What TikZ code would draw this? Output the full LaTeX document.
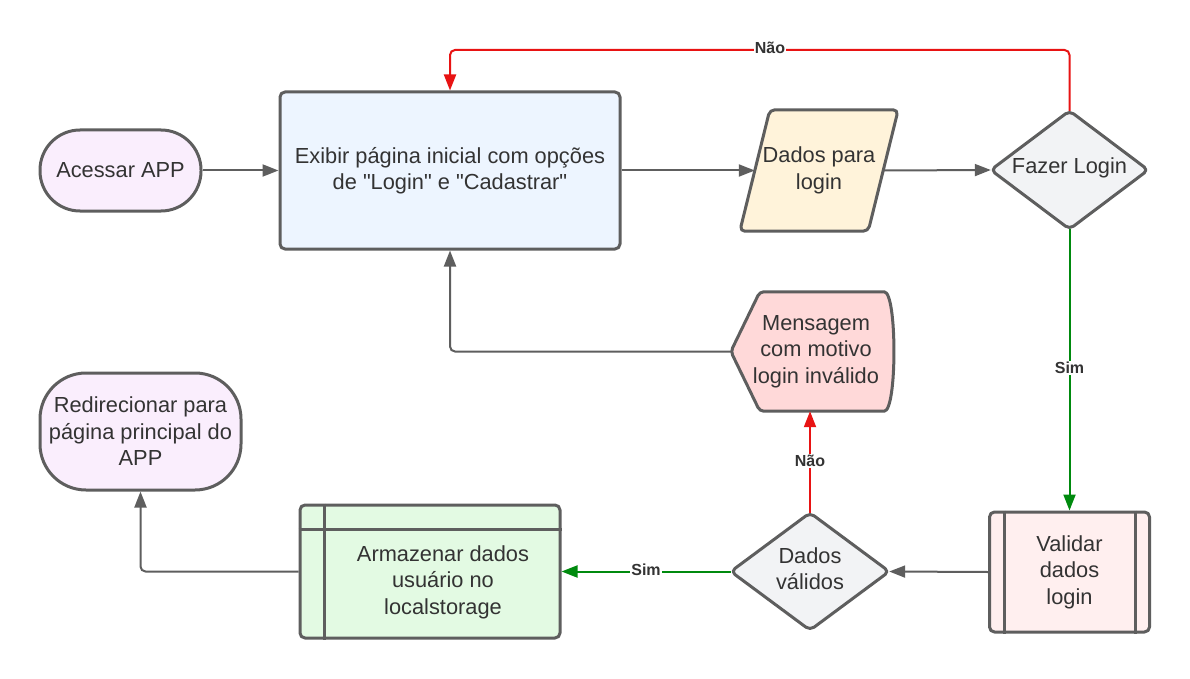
\documentclass[tikz,border=0pt]{standalone}
\usepackage{fontspec}
\setmainfont{Liberation Sans}[Ligatures=TeXOff]
\usetikzlibrary{arrows.meta}
\definecolor{strk}{HTML}{5E5E5E}
\definecolor{txt}{HTML}{333333}
\definecolor{fpurple}{HTML}{FAEEFD}
\definecolor{fblue}{HTML}{EDF5FF}
\definecolor{fyellow}{HTML}{FFF3DA}
\definecolor{fgray}{HTML}{F2F3F5}
\definecolor{fred}{HTML}{FFD9D9}
\definecolor{fpink}{HTML}{FFEFEF}
\definecolor{fgreen}{HTML}{E3FAE3}
\definecolor{cred}{HTML}{E81313}
\definecolor{cgreen}{HTML}{008A0E}
\tikzset{
  txtstyle/.style={text=txt, font=\fontsize{21.8}{26.5}\selectfont, align=center},
  ghost/.style={txtstyle, draw=none, inner sep=0pt, rectangle},
  shapeline/.style={draw=strk, line width=3pt, line join=round},
  stadium/.style={txtstyle, shapeline, rectangle, inner sep=0pt},
  boxstyle/.style={txtstyle, shapeline, rectangle, rounded corners=5pt, inner sep=0pt},
  conn/.style={draw=strk, line width=2pt, rounded corners=5pt, -{Triangle[length=16pt,width=12pt]}},
  connred/.style={conn, draw=cred, -{Triangle[length=16pt,width=12pt,fill=cred]}},
  conngreen/.style={conn, draw=cgreen, -{Triangle[length=16pt,width=12pt,fill=cgreen]}},
  lbl/.style={fill=white, text=txt, font=\fontsize{16}{18}\selectfont\bfseries, inner sep=1pt}
}
\begin{document}
\begin{tikzpicture}[x=1pt,y=-1pt]
\useasboundingbox[fill=white] (0,0) rectangle (1190,679);

% nodes
\node[stadium, fill=fpurple, rounded corners=40pt, minimum width=161, minimum height=81] (acc) at (120.5,170.5) {Acessar APP};
\node[boxstyle, fill=fblue, minimum width=340, minimum height=157] (main) at (450,170.5) {Exibir página inicial com opções\\de "Login" e "Cadastrar"};

\node[ghost, minimum width=128, minimum height=121] (dp) at (819,170.5) {};
\draw[shapeline, fill=fyellow, rounded corners=5pt] ([xshift=15]dp.north west) -- ([xshift=15]dp.north east) -- ([xshift=-15]dp.south east) -- ([xshift=-15]dp.south west) -- cycle;
\node[txtstyle] at (dp.center) {Dados para\\login};

\node[ghost, minimum width=157, minimum height=118] (fl) at (1069.5,170) {};
\draw[shapeline, fill=fgray, rounded corners=5pt] (fl.north) -- (fl.east) -- (fl.south) -- (fl.west) -- cycle;
\node[txtstyle] at ([yshift=2]fl.center) {Fazer Login};

\node[boxstyle, fill=fpink, minimum width=160, minimum height=120] (val) at (1069.5,572) {Validar\\dados\\login};
\draw[shapeline] ([xshift=16]val.north west) -- ([xshift=16]val.south west);
\draw[shapeline] ([xshift=-16]val.north east) -- ([xshift=-16]val.south east);

\node[ghost, minimum width=158, minimum height=117] (dv) at (810,571.5) {};
\draw[shapeline, fill=fgray, rounded corners=5pt] (dv.north) -- (dv.east) -- (dv.south) -- (dv.west) -- cycle;
\node[txtstyle] at ([yshift=3]dv.center) {Dados\\válidos};

\node[ghost, minimum width=162, minimum height=119] (msg) at (812,351.5) {};
\draw[shapeline, fill=fred, rounded corners=4pt] (msg.west) -- ([xshift=29]msg.north west) -- ([xshift=-13]msg.north east)
  .. controls ([xshift=4]msg.north east) and ([xshift=4]msg.south east) .. ([xshift=-13]msg.south east)
  -- ([xshift=29]msg.south west) -- cycle;
\node[txtstyle] at ([xshift=4]msg.center) {Mensagem\\com motivo\\login inválido};

\node[boxstyle, fill=fgreen, minimum width=260, minimum height=133] (arm) at (430,571.5) {};
\draw[shapeline] ([yshift=-26]arm.north west) -- ([yshift=-26]arm.north east);
\draw[shapeline] ([xshift=26]arm.north west) -- ([xshift=26]arm.south west);
\node[txtstyle] (armt) at (443,582) {Armazenar dados\\usuário no\\localstorage};

\node[stadium, fill=fpurple, rounded corners=46pt, minimum width=201, minimum height=117] (redir) at (140.5,431.5) {Redirecionar para\\página principal do\\APP};

% connectors
\draw[conn] (acc.east) -- (main.west);
\draw[conn] (main.east) -- (dp.west);
\draw[conn] (dp.east) -- (fl.west);
\draw[connred] (fl.north) -- (fl.north |- 0,50) -- (main.north |- 0,50) -- (main.north);
\node[lbl] at (770,48) {Não};
\draw[conngreen] (fl.south) -- (val.north);
\node[lbl] at (1069.5,368) {Sim};
\draw[conn] (val.west) -- (dv.east);
\draw[connred] (dv.north) -- (dv.north |- msg.south);
\node[lbl] at (810,461) {Não};
\draw[conngreen] (dv.west) -- (arm.east);
\node[lbl] at (646,570) {Sim};
\draw[conn] (msg.west) -| (main.south);
\draw[conn] (arm.west) -| (redir.south);
\end{tikzpicture}
\end{document}
